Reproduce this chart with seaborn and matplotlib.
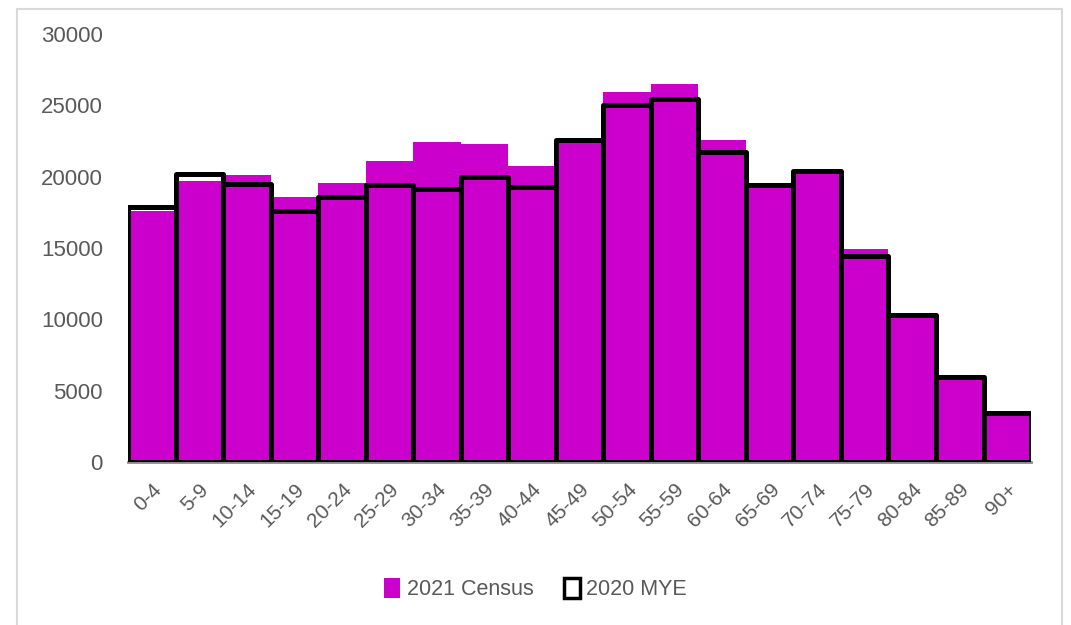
import matplotlib
matplotlib.use("Agg")
import matplotlib.pyplot as plt
from matplotlib.patches import Patch, Rectangle
import pandas as pd
import seaborn as sns

AGE_GROUPS = ["0-4", "5-9", "10-14", "15-19", "20-24", "25-29", "30-34", "35-39",
              "40-44", "45-49", "50-54", "55-59", "60-64", "65-69", "70-74",
              "75-79", "80-84", "85-89", "90+"]
CENSUS_2021 = [17600, 19700, 20150, 18600, 19550, 21100, 22400, 22300, 20750,
               22550, 25900, 26500, 22600, 19400, 20350, 14900, 10250, 5900, 3350]
MYE_2020 = [17850, 20200, 19500, 17600, 18600, 19450, 19150, 19950, 19300,
            22600, 25050, 25450, 21750, 19450, 20400, 14450, 10300, 5950, 3400]

MAGENTA = "#CC00CC"
TEXT_GREY = "#595959"

sns.set_style("white")
plt.rcParams["font.family"] = ["Liberation Sans", "DejaVu Sans"]

df = pd.DataFrame({"age": AGE_GROUPS, "census": CENSUS_2021, "mye": MYE_2020})

fig = plt.figure(figsize=(10.71, 6.25), dpi=100)
ax = fig.add_axes([0.1195, 0.2608, 0.8432, 0.6848])

# 2021 Census: filled magenta bars
sns.barplot(data=df, x="age", y="census", color=MAGENTA, width=1.0,
            linewidth=0, saturation=1, ax=ax)
n_census = len(ax.patches)
# 2020 MYE: thick black outlines on top
sns.barplot(data=df, x="age", y="mye", color="black", fill=False, width=1.0,
            linewidth=3.6, ax=ax)
for p in ax.patches[n_census:]:
    p.set_joinstyle("round")
    p.set_facecolor("none")
    p.set_edgecolor("black")

ax.set_xlim(-0.5, len(AGE_GROUPS) - 0.5)
ax.set_ylim(0, 30000)
ax.set_yticks(range(0, 30001, 5000))
ax.set_xlabel("")
ax.set_ylabel("")
ax.tick_params(axis="y", length=0, pad=18, labelsize=16, labelcolor=TEXT_GREY)
ax.tick_params(axis="x", length=0, pad=13, labelsize=15, labelcolor=TEXT_GREY)
plt.setp(ax.get_xticklabels(), rotation=45, ha="right", rotation_mode="anchor")

for side in ["left", "right", "top"]:
    ax.spines[side].set_visible(False)
ax.spines["bottom"].set_color("#8C8C8C")
ax.spines["bottom"].set_linewidth(2.0)
ax.spines["bottom"].set_zorder(0)

handles = [Patch(facecolor=MAGENTA, edgecolor="none", label="2021 Census"),
           Patch(facecolor="white", edgecolor="black", linewidth=2.5, label="2020 MYE")]
leg = fig.legend(handles=handles, loc="center", bbox_to_anchor=(0.5, 0.058), ncol=2,
                 frameon=False, fontsize=15.5, handlelength=0.75, handleheight=1.05,
                 handletextpad=0.3, columnspacing=1.4)
for t in leg.get_texts():
    t.set_color(TEXT_GREY)

fig.patches.append(Rectangle((17 / 1071, -0.01), 1045 / 1071, 0.9955,
                             transform=fig.transFigure, fill=False,
                             edgecolor="#D9D9D9", linewidth=1.5))

fig.savefig("out.png", dpi=100)
